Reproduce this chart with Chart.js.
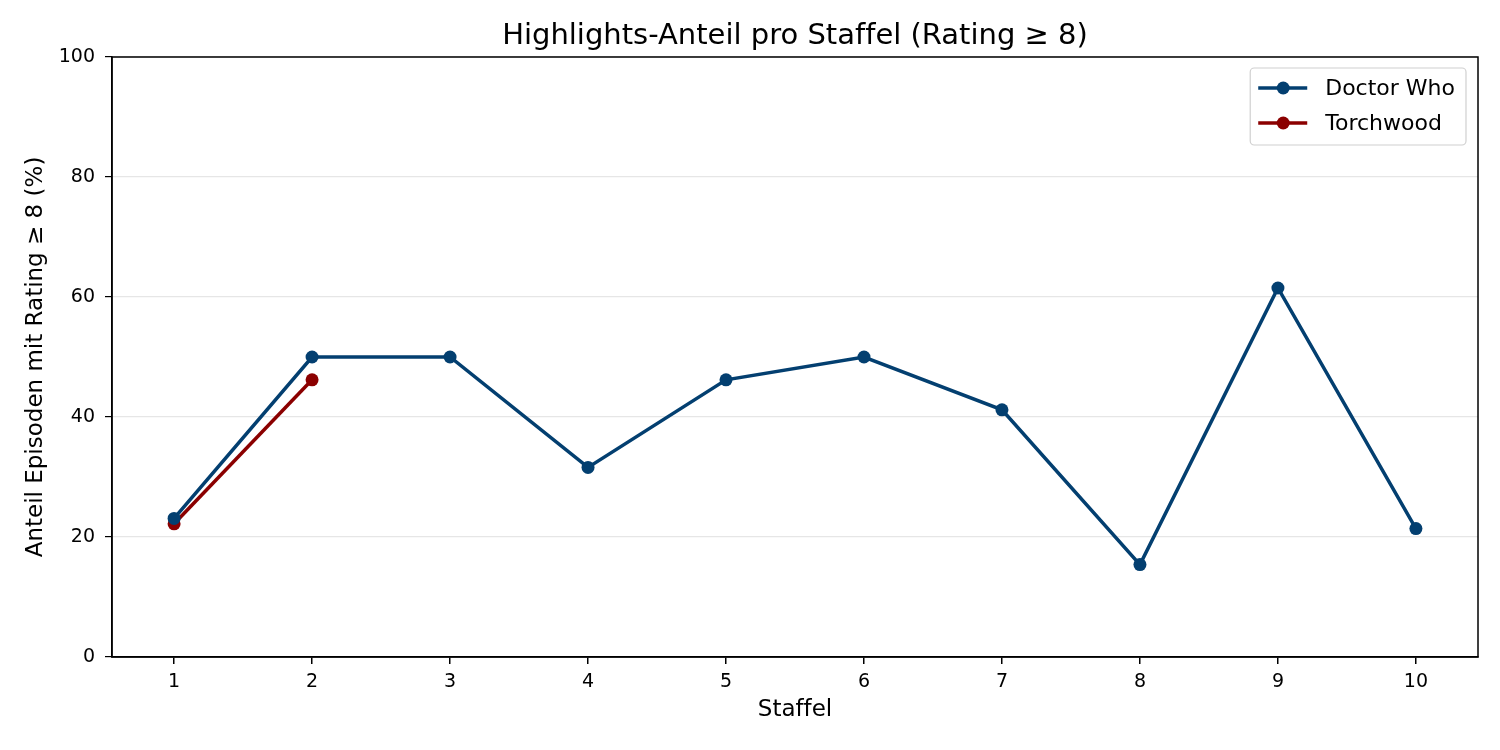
<!DOCTYPE html>
<html>
<head>
<meta charset="utf-8">
<script src="https://cdn.jsdelivr.net/npm/chart.js@4"></script>
<style>
  html, body { margin: 0; padding: 0; background: #fff; }
  #wrap { width: 1500px; height: 750px; }
</style>
</head>
<body>
<div id="wrap"><canvas id="highlightChart" width="1500" height="750"></canvas></div>
<script>
// Staffeln und Anteile (%) der Episoden mit Rating >= 8
const seasons = [1, 2, 3, 4, 5, 6, 7, 8, 9, 10];
const doctorWho = [23.1, 50.0, 50.0, 31.6, 46.2, 50.0, 41.2, 15.4, 61.5, 21.4];
const torchwoodSeasons = [1, 2];
const torchwood = [22.2, 46.2];
const yTicks = [0, 20, 40, 60, 80, 100];

const seriesNames = ['Doctor Who', 'Torchwood'];
const seriesColors = ['#033f70', '#8b0000'];

// \u200C verhindert die ff-Ligatur im Canvas
const titleText = 'Highlights-Anteil pro Staffel (Rating ≥ 8)'.replace('ff', 'f\u200Cf');
const xLabel = 'Staf\u200Cfel';
const yLabel = 'Anteil Episoden mit Rating ≥ 8 (%)';

const FONT = 'DejaVu Sans';

function toPoints(xs, ys) {
    return xs.map((x, i) => ({ x: x, y: ys[i] }));
}

// Titel über der Plotfläche, Rahmen (alle vier Seiten) + Legende mit Linie und Punkt
const framePlugin = {
    id: 'frame',
    afterDraw(chart) {
        const ctx = chart.ctx;
        const a = chart.chartArea;
        ctx.save();

        ctx.fillStyle = '#000';
        ctx.font = '29px "' + FONT + '"';
        ctx.textAlign = 'center';
        ctx.textBaseline = 'middle';
        ctx.fillText(titleText, (a.left + a.right) / 2, 36);

        ctx.strokeStyle = '#000';
        ctx.lineWidth = 1.5;
        ctx.strokeRect(a.left, a.top, a.right - a.left, a.bottom - a.top);

        // Legende
        ctx.font = '22px "' + FONT + '"';
        let textW = 0;
        chart.data.datasets.forEach(ds => {
            textW = Math.max(textW, ctx.measureText(ds.label).width);
        });
        const boxW = 75 + textW + 11;
        const boxH = 77;
        const bx = a.right - 12 - boxW;
        const by = a.top + 11;
        ctx.beginPath();
        ctx.roundRect(bx, by, boxW, boxH, 4);
        ctx.fillStyle = 'rgba(255,255,255,0.85)';
        ctx.fill();
        ctx.strokeStyle = '#d0d0d0';
        ctx.lineWidth = 1.2;
        ctx.stroke();

        chart.data.datasets.forEach((ds, i) => {
            const cy = by + 20 + i * 35;
            ctx.strokeStyle = ds.borderColor;
            ctx.lineWidth = 3.5;
            ctx.beginPath();
            ctx.moveTo(bx + 8, cy);
            ctx.lineTo(bx + 57, cy);
            ctx.stroke();
            ctx.fillStyle = ds.borderColor;
            ctx.beginPath();
            ctx.arc(bx + 33, cy, 6.5, 0, Math.PI * 2);
            ctx.fill();
            ctx.fillStyle = '#000';
            ctx.textBaseline = 'middle';
            ctx.textAlign = 'left';
            ctx.fillText(ds.label, bx + 75, cy + 1);
        });
        ctx.restore();
    }
};

const ctx = document.getElementById('highlightChart').getContext('2d');

const chart = new Chart(ctx, {
    type: 'line',
    data: {
        datasets: [
            {
                label: seriesNames[0],
                data: toPoints(seasons, doctorWho),
                borderColor: seriesColors[0],
                backgroundColor: seriesColors[0],
                borderWidth: 3.5,
                pointRadius: 6.5,
                pointHoverRadius: 6.5,
                pointBorderWidth: 0,
                tension: 0
            },
            {
                label: seriesNames[1],
                data: toPoints(torchwoodSeasons, torchwood),
                borderColor: seriesColors[1],
                backgroundColor: seriesColors[1],
                borderWidth: 3.5,
                pointRadius: 6.5,
                pointHoverRadius: 6.5,
                pointBorderWidth: 0,
                tension: 0
            }
        ]
    },
    options: {
        responsive: false,
        animation: false,
        devicePixelRatio: 1,
        layout: { padding: { left: 0, right: 22, top: 57, bottom: 0 } },
        plugins: {
            legend: { display: false },
            tooltip: { enabled: false },
            title: { display: false }
        },
        scales: {
            x: {
                type: 'linear',
                min: 0.55,
                max: 10.45,
                afterBuildTicks(scale) {
                    scale.ticks = seasons.map(v => ({ value: v }));
                },
                afterFit(scale) { scale.height = 93; },
                grid: {
                    drawOnChartArea: false,
                    color: '#000',
                    tickColor: '#000',
                    tickLength: 7,
                    lineWidth: 1.5
                },
                border: { color: '#000', width: 1.5 },
                ticks: {
                    color: '#000',
                    padding: 7,
                    maxRotation: 0,
                    font: { family: FONT, size: 19 }
                },
                title: {
                    display: true,
                    text: xLabel,
                    color: '#000',
                    font: { family: FONT, size: 23 },
                    padding: { top: 4, bottom: 26 }
                }
            },
            y: {
                min: 0,
                max: 100,
                afterBuildTicks(scale) {
                    scale.ticks = yTicks.map(v => ({ value: v }));
                },
                afterFit(scale) { scale.width = 112; },
                grid: {
                    color: '#e6e6e6',
                    lineWidth: 1.2,
                    tickColor: '#000',
                    tickLength: 7
                },
                border: { color: '#000', width: 1.5 },
                ticks: {
                    color: '#000',
                    padding: 10,
                    font: { family: FONT, size: 19 }
                },
                title: {
                    display: true,
                    text: yLabel,
                    color: '#000',
                    font: { family: FONT, size: 23 },
                    padding: { top: 22, bottom: 4 }
                }
            }
        }
    },
    plugins: [framePlugin]
});
</script>
</body>
</html>
